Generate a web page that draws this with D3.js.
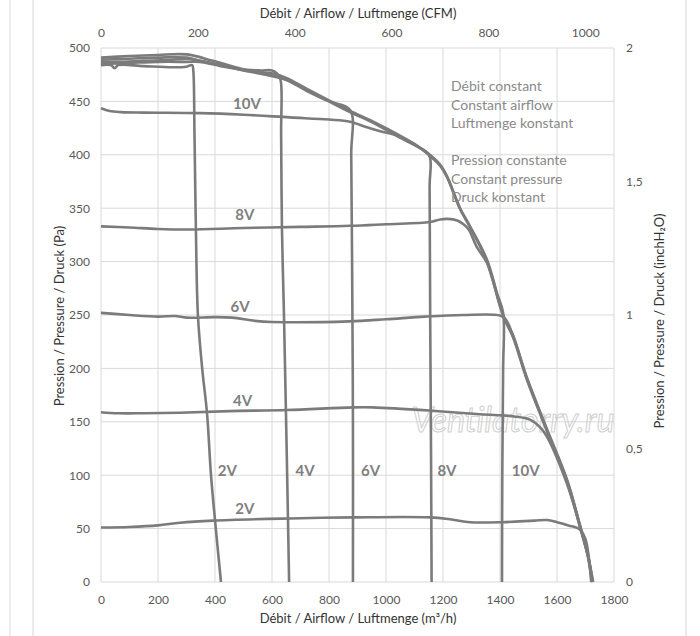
<!doctype html>
<html lang="en">
<head>
<meta charset="utf-8">
<title>Débit / Pression</title>
<script src="https://cdnjs.cloudflare.com/ajax/libs/d3/7.8.5/d3.min.js"></script>
<style>
  body { margin: 0; background: #fff; }
  text { font-family: Lato, "Open Sans", sans-serif; }
</style>
</head>
<body>
<svg width="700" height="636" id="svg"></svg>
<script>
// axis ticks
var flowTicks = [0, 200, 400, 600, 800, 1000, 1200, 1400, 1600, 1800];
var cfmTicks = [0, 200, 400, 600, 800, 1000];
var paTicks = [0, 50, 100, 150, 200, 250, 300, 350, 400, 450, 500];
var inchTicks = [0, 0.5, 1, 1.5, 2];
var inchLabels = ['0', '0,5', '1', '1,5', '2'];

// constant pressure curves, [m3/h, Pa]
var cp10 = [[0,443.5],[30,441],[70,440],[150,439.5],[347,439],[500,437.5],[663,435],[800,433],[874,431],[930,426],[980,422],[1040,418],[1100,410],[1154,399],[1189,390],[1214,379],[1260,349],[1295,332],[1354,300],[1411,249],[1446,229],[1495,189],[1565,141],[1635,94],[1681,51],[1709,24],[1727,0]];
var cp8 = [[0,333],[100,332],[200,330.5],[312,330],[500,331.5],[700,332.5],[874,333.5],[1000,335],[1154,337],[1190,339.5],[1217,340],[1250,338.5],[1272,335],[1290,330],[1320,313],[1354,299],[1411,250],[1446,231],[1495,190],[1565,142],[1635,95],[1681,53],[1709,25],[1724,0]];
var cp6 = [[0,252],[100,250],[200,248.5],[260,249],[300,247.5],[400,248],[460,247.5],[540,244.5],[600,243.5],[870,244],[1000,246],[1137,248.5],[1270,250],[1400,249.5],[1420,246],[1446,230],[1495,191],[1565,143],[1635,96],[1681,52],[1709,23],[1722,0]];
var cp4 = [[0,159],[60,158],[150,158],[277,158.5],[450,160],[652,161],[884,163.5],[954,163.5],[1154,160.5],[1330,157],[1450,155],[1505,152],[1540,145],[1565,136],[1635,92],[1681,52],[1709,24],[1725,0]];
var cp2 = [[0,51],[100,51.5],[200,53],[277,55.5],[393,57.5],[663,59.5],[884,60.5],[1154,60.5],[1230,58.5],[1295,56],[1407,56],[1520,57.5],[1565,58],[1600,56],[1640,53],[1681,49],[1700,40],[1712,22],[1720,0]];

// constant airflow curves, [m3/h, Pa]
var ca10 = [[0,491],[100,492.5],[200,493.5],[300,494],[393,488],[460,483],[533,478],[604,476],[650,472],[721,462],[800,451],[874,441],[955,431],[1049,418],[1100,410],[1154,400],[1189,391],[1214,380],[1260,350],[1295,333],[1354,302],[1390,270],[1411,252],[1411,200],[1408,100],[1407,0]];
var ca8 = [[0,489],[100,490],[200,491],[302,491],[347,488],[420,484],[487,480],[560,477],[650,471],[721,461],[800,450],[874,440],[955,430],[1049,416],[1100,409],[1151,400],[1153,370],[1155,250],[1158,120],[1160,0]];
var ca6 = [[0,487],[60,487],[150,488],[250,489],[302,490],[350,488],[420,484],[500,479],[560,476],[650,470],[721,460],[800,450],[874,442],[878,400],[881,300],[884,150],[884,0]];
var ca4 = [[0,485],[100,486],[200,487],[300,487],[347,487],[420,483],[487,480],[560,479],[600,479],[618,476],[630,470],[632,420],[635,330],[642,250],[649,158],[656,60],[660,0]];
var ca2 = [[0,484],[35,484],[48,481],[60,484],[150,483],[250,482],[300,482.5],[320,484],[324,478],[328,420],[333,330],[340,250],[355,200],[372,158],[386,100],[400,58],[421,0]];

// curve labels: [text, m3/h, Pa]
var pressureLabels = [['10V',512,448],['8V',505,344],['6V',488,258],['4V',497,170],['2V',505,69]];
var airflowLabels = [['2V',443,104],['4V',716,104],['6V',946,104],['8V',1214,104],['10V',1490,104]];
var noteLines = ['Débit constant', 'Constant airflow', 'Luftmenge konstant', '', 'Pression constante', 'Constant pressure', 'Druck konstant'];

var svg = d3.select('#svg');
var W = 700, H = 636;

var x = d3.scaleLinear().domain([0, 1800]).range([101, 614]);
var xCfm = d3.scaleLinear().domain([0, 1800 / 1.699]).range([101, 614]);
var y = d3.scaleLinear().domain([0, 500]).range([582, 48]);
var yIn = d3.scaleLinear().domain([0, 2]).range([582, 48]);

// page frame
[10, 33, 686].forEach(function (fx, i) {
  svg.append('line').attr('x1', fx).attr('x2', fx).attr('y1', 0).attr('y2', H)
    .attr('stroke', i == 0 ? '#ececec' : '#dedede').attr('stroke-width', i == 0 ? 2 : 1.2);
});

// grid
svg.append('g').selectAll('line').data(flowTicks).enter().append('line')
  .attr('x1', function (d) { return x(d); }).attr('x2', function (d) { return x(d); })
  .attr('y1', y(0)).attr('y2', y(500))
  .attr('stroke', '#d9d9d9').attr('stroke-width', 1);
svg.append('g').selectAll('line').data(paTicks).enter().append('line')
  .attr('x1', x(0)).attr('x2', x(1800))
  .attr('y1', function (d) { return y(d); }).attr('y2', function (d) { return y(d); })
  .attr('stroke', '#d9d9d9').attr('stroke-width', 1);

// axes
var plain = d3.format('d');
function styleAxis(g) {
  g.select('.domain').remove();
  g.selectAll('.tick line').remove();
  g.selectAll('text').attr('fill', '#595959').attr('font-size', '12px')
    .attr('font-family', 'Lato, "Open Sans", sans-serif');
}
svg.append('g').attr('transform', 'translate(0,582)')
  .call(d3.axisBottom(x).tickValues(flowTicks).tickFormat(plain).tickSize(0).tickPadding(13)).call(styleAxis);
svg.append('g').attr('transform', 'translate(0,48)')
  .call(d3.axisTop(xCfm).tickValues(cfmTicks).tickFormat(plain).tickSize(0).tickPadding(11)).call(styleAxis);
svg.append('g').attr('transform', 'translate(101,0)')
  .call(d3.axisLeft(y).tickValues(paTicks).tickFormat(plain).tickSize(0).tickPadding(11)).call(styleAxis);
svg.append('g').attr('transform', 'translate(614,0)')
  .call(d3.axisRight(yIn).tickValues(inchTicks).tickSize(0).tickPadding(12)
    .tickFormat(function (d, i) { return inchLabels[i]; })).call(styleAxis);

// axis titles
var titleColor = '#333';
svg.append('text').attr('x', 358).attr('y', 18).attr('text-anchor', 'middle')
  .attr('font-size', '13px').attr('fill', titleColor).text('Débit / Airflow / Luftmenge (CFM)');
svg.append('text').attr('x', 358).attr('y', 623).attr('text-anchor', 'middle')
  .attr('font-size', '13px').attr('fill', titleColor).text('Débit / Airflow / Luftmenge (m³/h)');
svg.append('text').attr('transform', 'translate(64,316) rotate(-90)').attr('text-anchor', 'middle')
  .attr('font-size', '13px').attr('fill', titleColor).text('Pression / Pressure / Druck (Pa)');
svg.append('text').attr('transform', 'translate(664,321) rotate(-90)').attr('text-anchor', 'middle')
  .attr('font-size', '13px').attr('fill', titleColor).text('Pression / Pressure / Druck (inchH₂O)');

// watermark
svg.append('text').attr('x', 513).attr('y', 432).attr('text-anchor', 'middle')
  .attr('font-size', '34px').attr('font-style', 'italic')
  .attr('fill', 'none').attr('stroke', '#cfcfcf').attr('stroke-width', 1)
  .text('Ventilatorry.ru');

// curves
var line = d3.line()
  .x(function (d) { return x(d[0]); })
  .y(function (d) { return y(d[1]); })
  .curve(d3.curveCatmullRom.alpha(0.5));

var curves = [ca2, ca4, ca6, ca8, ca10, cp10, cp8, cp6, cp4, cp2];
svg.append('g').selectAll('path').data(curves).enter().append('path')
  .attr('d', line)
  .attr('fill', 'none')
  .attr('stroke', '#7b7b7b')
  .attr('stroke-width', 2.6)
  .attr('stroke-linejoin', 'round');

// curve labels
svg.append('g').selectAll('text').data(pressureLabels.concat(airflowLabels)).enter().append('text')
  .attr('x', function (d) { return x(d[1]); })
  .attr('y', function (d) { return y(d[2]); })
  .attr('dy', '0.36em')
  .attr('text-anchor', 'middle')
  .attr('font-size', '15px').attr('font-weight', 'bold').attr('fill', '#7f7f7f')
  .text(function (d) { return d[0]; });

// notes
svg.append('g').selectAll('text').data(noteLines).enter().append('text')
  .attr('x', 451)
  .attr('y', function (d, i) { return 91 + i * 18.5; })
  .attr('font-size', '14px').attr('fill', '#8a8a8a')
  .text(function (d) { return d; });
</script>
</body>
</html>
